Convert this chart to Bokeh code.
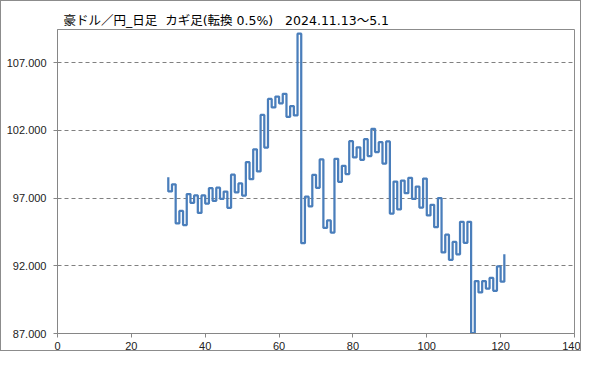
from bokeh.plotting import figure
from bokeh.models import Range1d, FixedTicker, NumeralTickFormatter
from bokeh.embed import file_html
from bokeh.resources import INLINE

title_text = "豪ドル／円_日足\u00a0\u00a0カギ足(転換 0.5%)\u00a0\u00a0\u00a02024.11.13～5.1"

# Kagi chart: each line sits at an integer x; start level, then end level of each vertical line
kagi_start = 98.53
kagi_x = list(range(30, 122))
kagi_end = [
    97.49, 98.02, 95.14, 96.05, 95.01, 97.30, 96.65, 97.20, 95.90, 97.20,
    96.60, 97.73, 96.80, 97.77, 96.95, 97.48, 96.28, 98.73, 97.43, 98.08,
    97.19, 99.65, 98.40, 100.60, 98.97, 103.14, 100.73, 104.32, 103.69, 104.50,
    104.00, 104.70, 103.00, 103.80, 103.10, 109.14, 93.67, 97.10, 96.39, 98.72,
    97.76, 99.85, 94.80, 95.35, 94.45, 99.90, 98.20, 99.38, 98.77, 101.20,
    100.00, 100.75, 99.83, 101.35, 100.10, 102.12, 100.40, 101.13, 99.55, 101.18,
    95.86, 98.22, 96.16, 98.29, 97.36, 98.50, 96.94, 97.85, 96.30, 98.44,
    95.72, 96.50, 94.85, 97.00, 92.99, 94.30, 92.44, 93.76, 92.85, 95.25,
    93.70, 95.25, 87.02, 90.87, 90.03, 90.87, 90.32, 91.10, 90.15, 91.96,
    90.83, 92.85,
]
x_ticks = [0, 20, 40, 60, 80, 100, 120, 140]
y_ticks = [87, 92, 97, 102, 107]

# build step path
px = [kagi_x[0]]
py = [kagi_start]
for i, (x, e) in enumerate(zip(kagi_x, kagi_end)):
    px.append(x)
    py.append(e)
    if i + 1 < len(kagi_x):
        px.append(kagi_x[i + 1])
        py.append(e)

p = figure(width=581, height=351, output_backend="svg", toolbar_location=None,
           x_range=Range1d(0, 140), y_range=Range1d(87, 109.45),
           min_border_left=56, min_border_right=8, min_border_top=28, min_border_bottom=19)
p.styles = {"border": "1px solid #8c8c8c"}

p.title.text = title_text
p.title.text_font = "'DejaVu Sans', 'Noto Sans CJK JP'"
p.title.text_font_size = "12.5px"
p.title.text_font_style = "normal"
p.title.text_color = "#000000"
p.title.align = "left"
p.title.offset = 6
p.title.standoff = 4

p.line(px, py, line_color="#4a7ebb", line_width=2.25)

p.outline_line_color = "#8c8c8c"
p.outline_line_width = 1

p.xgrid.visible = False
p.ygrid.grid_line_color = "#808080"
p.ygrid.grid_line_dash = "4 3"
p.ygrid.grid_line_width = 1
p.ygrid.ticker = FixedTicker(ticks=y_ticks)

for ax in (p.xaxis[0], p.yaxis[0]):
    ax.axis_line_color = "#868686"
    ax.major_tick_line_color = "#868686"
    ax.major_tick_out = 4
    ax.major_tick_in = 0
    ax.minor_tick_out = 0
    ax.minor_tick_in = 0
    ax.major_label_text_font = "Liberation Sans"
    ax.major_label_text_font_size = "11px"
    ax.major_label_text_color = "#222222"

p.xaxis[0].major_label_standoff = 4
p.yaxis[0].major_label_standoff = 7
p.xaxis[0].ticker = FixedTicker(ticks=x_ticks)
p.yaxis[0].ticker = FixedTicker(ticks=y_ticks)
p.yaxis[0].formatter = NumeralTickFormatter(format="0.000")

open("out.html", "w").write(file_html(p, INLINE))
